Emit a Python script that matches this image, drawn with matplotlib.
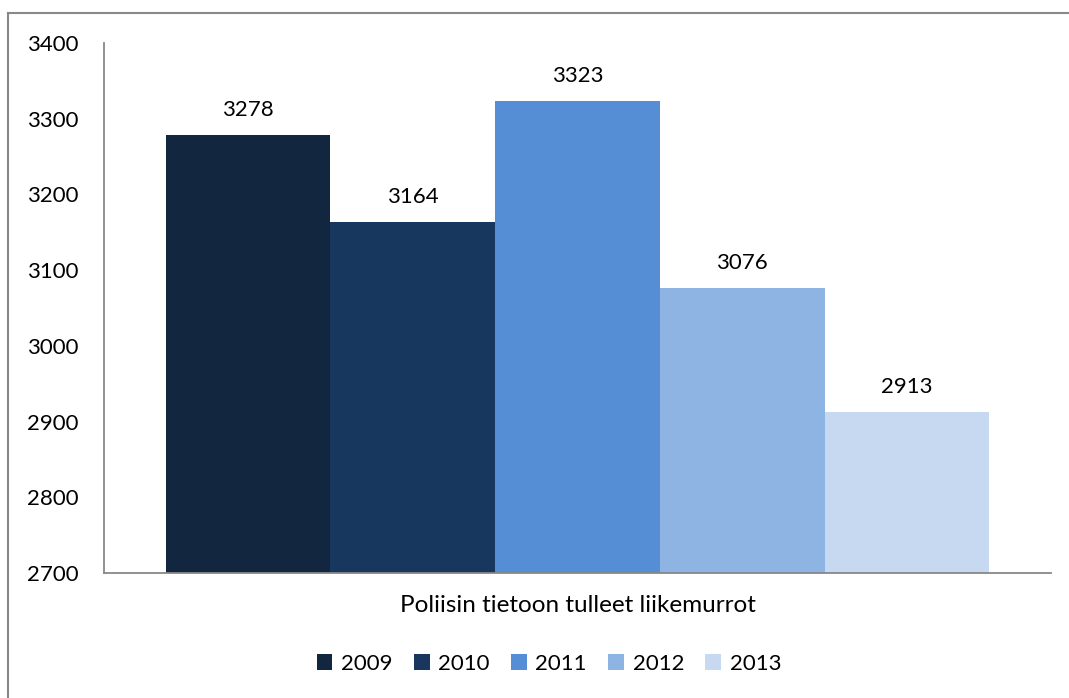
import matplotlib.pyplot as plt
from matplotlib.lines import Line2D

years = ['2009', '2010', '2011', '2012', '2013']
values = [3278, 3164, 3323, 3076, 2913]
colors = ['#12263f', '#17375e', '#558ed5', '#8eb4e3', '#c6d9f1']
category = 'Poliisin tietoon tulleet liikemurrot'
yticks = [2700, 2800, 2900, 3000, 3100, 3200, 3300, 3400]

plt.rcParams['font.family'] = ['Lato', 'DejaVu Sans']

fig = plt.figure(figsize=(10.69, 6.98), dpi=100)
ax = fig.add_axes([104/1069, 125/698, 947/1069, 530/698])

w = 0.174
for i, (yr, v, c) in enumerate(zip(years, values, colors)):
    x = (i - 2) * w
    ax.bar(x, v - 2700, bottom=2700, width=w, color=c, label=yr)
    ax.text(x, v + 20, str(v), ha='center', va='bottom', fontsize=16)

ax.set_xlim(-0.5, 0.5)
ax.set_ylim(2700, 3400)
ax.set_yticks(yticks)
ax.set_yticklabels([str(t) for t in yticks], fontsize=16)
ax.tick_params(axis='y', length=0, pad=18)
ax.set_xticks([])
ax.set_xlabel(category, fontsize=17.5, labelpad=16)
for s in ['top', 'right']:
    ax.spines[s].set_visible(False)
for s in ['left', 'bottom']:
    ax.spines[s].set_color('#888888')
    ax.spines[s].set_linewidth(1.3)

leg = ax.legend(loc='center', bbox_to_anchor=(549/1069, 34/698), bbox_transform=fig.transFigure,
                ncol=5, frameon=False, fontsize=16, handlelength=0.7, handleheight=0.7,
                handletextpad=0.4, columnspacing=0.95)

# outer chart frame
fig.add_artist(Line2D([8/1069, 8/1069], [0, 1 - 13/698], transform=fig.transFigure, color='#888888', lw=1.5))
fig.add_artist(Line2D([8/1069, 1], [1 - 13/698, 1 - 13/698], transform=fig.transFigure, color='#888888', lw=1.5))

fig.savefig('out.png', dpi=100)
